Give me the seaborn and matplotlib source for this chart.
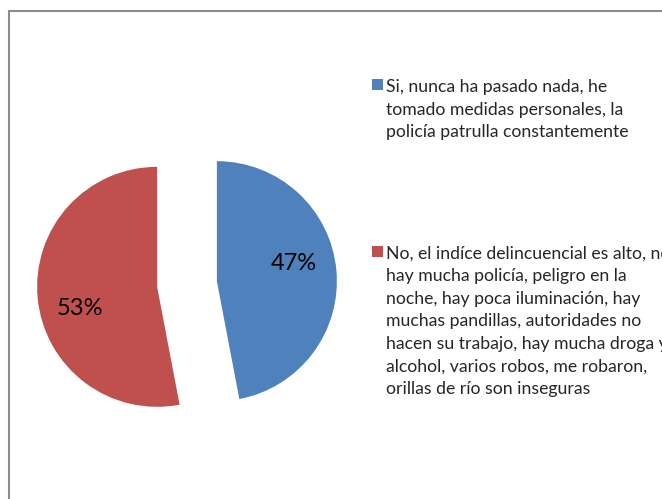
import numpy as np
import seaborn as sns
import matplotlib.pyplot as plt
from matplotlib.lines import Line2D

# chart data
categories = [
    "Si, nunca ha pasado nada, he\ntomado medidas personales, la\npolicía patrulla constantemente",
    "No, el indíce delincuencial es alto, no\nhay mucha policía, peligro en la\nnoche, hay poca iluminación, hay\nmuchas pandillas, autoridades no\nhacen su trabajo, hay mucha droga y\nalcohol, varios robos, me robaron,\norillas de río son inseguras",
]
shares = [47, 53]
colors = ["#4F81BD", "#C0504D"]

sns.set_theme(style="white")
plt.rcParams["font.family"] = ["Lato", "DejaVu Sans"]

fig = plt.figure(figsize=(6.62, 4.99), dpi=100)
ax = fig.add_axes([7 / 662, 35 / 499, 360 / 662, 360 / 499])

wedges, texts, autotexts = ax.pie(
    shares,
    colors=colors,
    startangle=90,
    counterclock=False,
    explode=[0.25, 0.25],
    autopct="%.0f%%",
    textprops={"fontsize": 17, "color": "black"},
    wedgeprops={"linewidth": 0},
)
ax.set_xlim(-1.5, 1.5)
ax.set_ylim(-1.5, 1.5)
ax.set_aspect("equal")

# Excel puts the percentages a little counter-clockwise of the slice middle
for w, t in zip(wedges, autotexts):
    ang = np.deg2rad((w.theta1 + w.theta2) / 2 + 9)
    cx, cy = w.center
    t.set_position((cx + 0.66 * np.cos(ang), cy + 0.66 * np.sin(ang) - 0.02))

leg = fig.legend(
    wedges,
    categories,
    loc="upper left",
    bbox_to_anchor=(372 / 662, 1 - 79 / 499),
    frameon=False,
    fontsize=12.7,
    handlelength=0.62,
    handleheight=0.62,
    handletextpad=0.17,
    labelspacing=6.0,
    borderpad=0,
    borderaxespad=0,
)
for t in leg.get_texts():
    t.set_linespacing(1.5)
# keep the colour square next to the first line of each label
for col in leg._legend_handle_box.get_children():
    for item in col.get_children():
        item.align = "top"

# outer chart frame (only left and top edges are visible)
x0, y0 = 8.5 / 662, 1 - 10.5 / 499
fig.add_artist(Line2D([x0, x0], [-0.05, y0], transform=fig.transFigure, color="#8c8c8c", lw=1.5))
fig.add_artist(Line2D([x0, 1.05], [y0, y0], transform=fig.transFigure, color="#8c8c8c", lw=1.5))

fig.savefig("out.png", dpi=100)
